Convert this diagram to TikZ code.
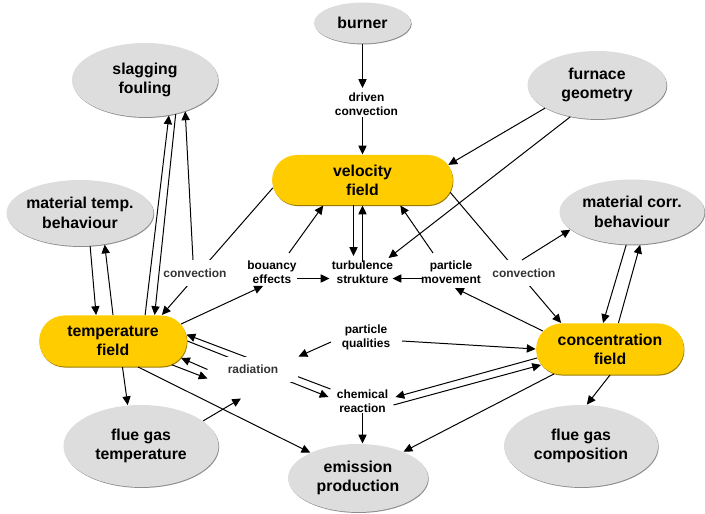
\documentclass[tikz,border=0pt]{standalone}
\usepackage{fontspec}
\setmainfont{Liberation Sans}
\usepackage{tikz}
\usetikzlibrary{positioning,shapes.geometric,shapes.misc,shadows,arrows.meta}

\definecolor{fieldyellow}{RGB}{255,204,0}
\definecolor{bubblegrey}{RGB}{221,221,221}

\tikzset{
    >={Triangle[length=7.5pt,width=7pt]},
    bubble/.style={ellipse, fill=bubblegrey, inner sep=0pt, align=center,
        font=\fontsize{13.5}{16.5}\selectfont\bfseries,
        drop shadow={shadow xshift=0.6pt, shadow yshift=-0.8pt, fill=black!45, opacity=1}},
    field/.style={rounded rectangle, fill=fieldyellow, inner xsep=-8pt, align=center,
        font=\fontsize{13.5}{16}\selectfont\bfseries, minimum height=1.53cm,
        drop shadow={shadow xshift=0.5pt, shadow yshift=-0.9pt, fill=fieldyellow!60!black, opacity=1}},
    effect/.style={align=center, inner sep=0pt, font=\fontsize{10.2}{11.8}\selectfont\bfseries},
    mechanism/.style={fill=white, inner sep=0pt, text=black!80,
        font=\fontsize{10.2}{11.8}\selectfont\bfseries},
}

\begin{document}
\begin{tikzpicture}[x=0.03cm, y=-0.03cm, line width=0.85pt]
    \path[use as bounding box, fill=white] (0,0) rectangle (705,514);
    % Nodes
    \node[bubble, minimum width=2.91cm, minimum height=1.23cm] (burner) at (362.5,23) {burner};
    \node[bubble, minimum width=4.38cm, minimum height=2.22cm] (slagging) at (145,80) {slagging\\fouling};
    \node[bubble, minimum width=4.17cm, minimum height=2.04cm] (furnace) at (597,85) {furnace\\geometry};
    \node[bubble, minimum width=4.41cm, minimum height=1.98cm, inner xsep=-3pt] (mattemp) at (80,213) {material temp.\\behaviour};
    \node[bubble, minimum width=4.35cm, minimum height=1.95cm] (matcorr) at (632,212) {material corr.\\behaviour};
    \node[bubble, minimum width=4.65cm, minimum height=2.46cm] (fluetemp) at (141,446) {flue gas\\temperature};
    \node[bubble, minimum width=4.2cm, minimum height=2.04cm] (emission) at (358,478) {emission\\production};
    \node[bubble, minimum width=4.62cm, minimum height=2.46cm] (fluecomp) at (581,446) {flue gas\\composition};
    \node[field, minimum width=4.86cm, minimum height=1.5cm] (velocity) at (362.5,180) {velocity\\field};
    \node[field, minimum width=3.87cm] (temperature) at (113,341) {temperature\\field};
    \node[field, minimum width=3.87cm] (concentration) at (610,349) {concentration\\field};

    \node[effect] (driven) at (366.5,104) {driven\\convection};
    \node[effect] (bouancy) at (272,272) {bouancy\\effects};
    \node[effect] (turbulence) at (362.5,272) {turbulence\\strukture};
    \node[effect] (movement) at (451,272) {particle\\movement};
    \node[effect] (qualities) at (366,337) {particle\\qualities};
    \node[effect] (chemical) at (362.5,401) {chemical\\reaction};

    % Arrows into the velocity field
    \draw[->] (burner.south) -- ([shift={(-4,-16)}]driven.center);
    \draw[->] ([shift={(-4,13)}]driven.center) -- (velocity.north);
    \draw[->] (furnace.204) -- (velocity.10);
    \draw[->] (furnace.230) -- ([shift={(26,-14)}]turbulence.center);
    \draw[->] ([shift={(-9,0)}]velocity.south) -- ([shift={(-9,-16)}]turbulence.center);
    \draw[->] ([shift={(0,-10)}]turbulence.center) -- (velocity.south);
    \draw[->] ([shift={(17,-19)}]bouancy.center) -- (velocity.213);
    \draw[->] ([shift={(-18,-19)}]movement.center) -- (velocity.326);
    \draw[->] ([shift={(25,6.5)}]bouancy.center) -- ([shift={(-33,6.5)}]turbulence.center);
    \draw[->] ([shift={(-29,6.5)}]movement.center) -- ([shift={(30,6.5)}]turbulence.center);
    \draw[->] (temperature.14) -- ([shift={(-9,14)}]bouancy.center);
    \draw[->] (concentration.165) -- ([shift={(4,16)}]movement.center);

    % Temperature field
    \draw[->] (velocity.185) -- (temperature.28);
    \draw[->] (temperature.39) -- (slagging.304);
    \draw[->] (slagging.312) -- (temperature.32);
    \draw[->] (mattemp.287) -- (temperature.123);
    \draw[->] (temperature.90) -- (mattemp.308);
    \draw[->] (temperature.290) -- (fluetemp.108);
    \draw[->] (temperature.314) -- (emission.152);
    \draw[->] ([shift={(-32,-12)}]chemical.center) -- (temperature.5);
    \draw[->] (temperature.0) -- ([shift={(-34,-4)}]chemical.center);

    % Concentration field
    \draw[->] (velocity.352) -- (concentration.152);
    \draw[->] (matcorr.260) -- (concentration.105);
    \draw[->] (concentration.72) -- (matcorr.284);
    \draw[->] ([shift={(36,4)}]qualities.center) -- (concentration.west);
    \draw[->] (concentration.187) -- ([shift={(33,-4)}]chemical.center);
    \draw[->] ([shift={(31,4)}]chemical.center) -- (concentration.193);
    \draw[->] (concentration.204) -- (emission.30);
    \draw[->] (concentration.270) -- (fluecomp.82);
    \draw[->] (chemical.south) -- (chemical.south |- emission.north);

    % Mechanisms on top of the lines
    \node[mechanism, minimum height=0.78cm] (convleft) at (195,273) {convection};
    \node[mechanism, minimum height=0.78cm] (convright) at (524,273) {convection};
    \node[mechanism, minimum width=2.7cm, minimum height=0.75cm] (radiation) at (253,369.5) {radiation};

    \draw[->] ([shift={(-2,-13)}]convleft.center) -- (slagging.322);
    \draw[->] ([shift={(-2,-13)}]convright.center) -- (matcorr.196);
    \draw[->] ([shift={(-35,5)}]qualities.center) -- (radiation.north east);
    \draw[->] (radiation.west) -- (temperature.346);
    \draw[->] (temperature.338) -- ([shift={(0,9)}]radiation.west);
    \draw[->] (fluetemp.22) -- ([shift={(-12,16)}]radiation.south);
\end{tikzpicture}
\end{document}
